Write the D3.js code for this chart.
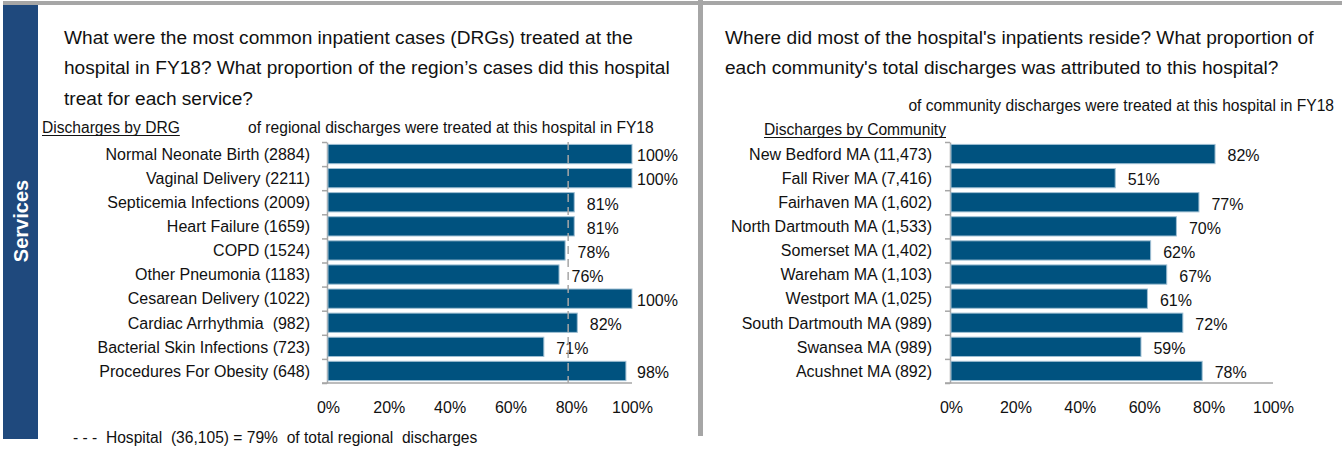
<!DOCTYPE html>
<html>
<head>
<meta charset="utf-8">
<script src="https://cdn.jsdelivr.net/npm/d3@7"></script>
<style>
  html, body { margin: 0; padding: 0; background: #fff; }
  svg { display: block; font-family: "Liberation Sans", Arial, sans-serif; }
  text { white-space: pre; fill: #111; }
</style>
</head>
<body>
<svg id="chart" width="1342" height="449"></svg>
<script>
// ---------- data ----------
const drgLabels = [
  "Normal Neonate Birth (2884)",
  "Vaginal Delivery (2211)",
  "Septicemia Infections (2009)",
  "Heart Failure (1659)",
  "COPD (1524)",
  "Other Pneumonia (1183)",
  "Cesarean Delivery (1022)",
  "Cardiac Arrhythmia  (982)",
  "Bacterial Skin Infections (723)",
  "Procedures For Obesity (648)"
];
const drgShare = [1.00, 1.00, 0.81, 0.81, 0.78, 0.76, 1.00, 0.82, 0.71, 0.98];

const communityLabels = [
  "New Bedford MA (11,473)",
  "Fall River MA (7,416)",
  "Fairhaven MA (1,602)",
  "North Dartmouth MA (1,533)",
  "Somerset MA (1,402)",
  "Wareham MA (1,103)",
  "Westport MA (1,025)",
  "South Dartmouth MA (989)",
  "Swansea MA (989)",
  "Acushnet MA (892)"
];
const communityShare = [0.82, 0.51, 0.77, 0.70, 0.62, 0.67, 0.61, 0.72, 0.59, 0.78];

const hospitalShare = 0.79;
const xTicks = [0, 0.2, 0.4, 0.6, 0.8, 1.0];

const leftTitle = [
  "What were the most common inpatient cases (DRGs) treated at the",
  "hospital in FY18? What proportion of the region\u2019s cases did this hospital",
  "treat for each service?"
];
const rightTitle = [
  "Where did most of the hospital's inpatients reside? What proportion of",
  "each community's total discharges was attributed to this hospital?"
];

// ---------- styles ----------
const BAR = "#00527f";
const BAR_EDGE = "#9fbfd3";
const GRID = "#a6a6a6";
const PANEL_BLUE = "#1f497d";
const FS = 15.6;
const FS_CAT = 16;

const svg = d3.select("#chart");
const pct = d3.format(".0%");

// frame
svg.append("rect").attr("x", 3).attr("y", 1).attr("width", 1339).attr("height", 4).attr("fill", GRID);
svg.append("rect").attr("x", 698).attr("y", 0).attr("width", 5).attr("height", 436).attr("fill", GRID);
svg.append("rect").attr("x", 3).attr("y", 5).attr("width", 35).attr("height", 434).attr("fill", PANEL_BLUE);
svg.append("text")
  .attr("transform", "translate(21,221) rotate(-90)")
  .attr("text-anchor", "middle").attr("dy", "0.35em")
  .style("fill", "#fff").style("font-weight", "bold").style("font-size", "20px")
  .text("Services");

function titleBlock(lines, x, y0) {
  lines.forEach((t, i) => {
    svg.append("text").attr("x", x).attr("y", y0 + i * 30.5)
      .style("font-size", "19.1px").text(t);
  });
}
titleBlock(leftTitle, 64, 43.5);
titleBlock(rightTitle, 725, 43.5);

function underlined(t, x, y) {
  const el = svg.append("text").attr("x", x).attr("y", y)
    .style("font-size", FS + "px").text(t);
  const w = el.node().getComputedTextLength();
  svg.append("line").attr("x1", x).attr("x2", x + w)
    .attr("y1", y + 2.5).attr("y2", y + 2.5)
    .attr("stroke", "#111").attr("stroke-width", 1);
}
underlined("Discharges by DRG", 42, 133);
underlined("Discharges by Community", 764, 135);

svg.append("text").attr("x", 248).attr("y", 133).style("font-size", FS + "px")
  .text("of regional discharges were treated at this hospital in FY18");
svg.append("text").attr("x", 1334).attr("y", 110.5).attr("text-anchor", "end").style("font-size", FS + "px")
  .text("of community discharges were treated at this hospital in FY18");

svg.append("text").attr("x", 73).attr("y", 443).style("font-size", FS + "px")
  .text("- - -  Hospital  (36,105) = " + pct(hospitalShare) + "  of total regional  discharges");

// ---------- bar panel ----------
function barPanel(labels, values, x0, x1, labelX, refLine) {
  const top = 142, bottom = 383;
  const x = d3.scaleLinear().domain([0, 1]).range([x0, x1]);
  const y = d3.scaleBand().domain(labels).range([top, bottom])
    .paddingInner(0.2).paddingOuter(0.1);
  const yIdx = d3.scaleLinear().domain([0, labels.length]).range([top, bottom]);

  const g = svg.append("g");

  // y axis with ticks at band boundaries
  const ya = g.append("g").attr("transform", `translate(${x0 - 1},0)`)
    .call(d3.axisLeft(yIdx).ticks(labels.length).tickFormat("").tickSizeInner(5).tickSizeOuter(0));
  ya.selectAll("path, line").attr("stroke", GRID).attr("stroke-width", 1.5);

  // x axis
  const xa = g.append("g").attr("transform", `translate(0,${bottom})`)
    .call(d3.axisBottom(x).tickValues(xTicks).tickFormat(pct).tickSizeInner(0).tickSizeOuter(0).tickPadding(18.5));
  xa.select(".domain").attr("stroke", GRID).attr("stroke-width", 1.5)
    .attr("d", `M${x0 - 6},0H${x1}`);
  xa.selectAll("text").style("font-size", FS_CAT + "px").style("fill", "#111")
    .attr("font-family", null);

  // bars
  g.selectAll("rect.bar").data(labels).enter().append("rect")
    .attr("class", "bar")
    .attr("x", x(0))
    .attr("y", d => y(d))
    .attr("width", (d, i) => x(values[i]) - x(0))
    .attr("height", y.bandwidth())
    .attr("fill", BAR)
    .attr("stroke", BAR_EDGE)
    .attr("stroke-width", 1);

  // category labels
  g.selectAll("text.cat").data(labels).enter().append("text")
    .attr("class", "cat")
    .attr("x", labelX)
    .attr("y", d => y(d) + y.bandwidth() / 2)
    .attr("dy", "0.36em")
    .attr("text-anchor", "end")
    .style("font-size", FS_CAT + "px")
    .text(d => d);

  // value labels
  g.selectAll("text.val").data(labels).enter().append("text")
    .attr("class", "val")
    .attr("x", (d, i) => Math.min(x(values[i]) + 12.5, x(1) + 5))
    .attr("y", d => y(d) + y.bandwidth() / 2 + 1.5)
    .attr("dy", "0.36em")
    .style("font-size", FS_CAT + "px")
    .text((d, i) => pct(values[i]));

  if (refLine != null) {
    g.append("line")
      .attr("x1", x(refLine)).attr("x2", x(refLine))
      .attr("y1", top).attr("y2", bottom)
      .attr("stroke", GRID).attr("stroke-width", 1.5)
      .attr("stroke-dasharray", "8,5");
  }
}

barPanel(drgLabels, drgShare, 328, 632, 310, hospitalShare);
barPanel(communityLabels, communityShare, 951, 1273, 932, null);
</script>
</body>
</html>
